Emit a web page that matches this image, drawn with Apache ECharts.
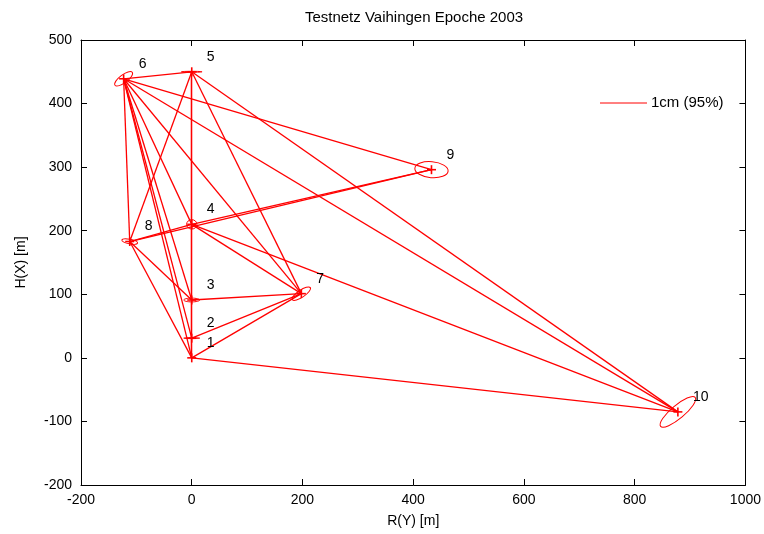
<!DOCTYPE html>
<html><head><meta charset="utf-8">
<script src="https://cdn.jsdelivr.net/npm/echarts@6/dist/echarts.min.js"></script>
<style>html,body{margin:0;padding:0;background:#fff}#c{width:764px;height:534px}</style>
</head><body><div id="c"></div>
<script>
// Station data (R = Y easting, H = X northing) in metres
const pointIds = ['1','2','3','4','5','6','7','8','9','10'];
const pointR = [0, 0, 0, 0, 0, -123, 198, -112, 433, 878];
const pointH = [0, 31, 91, 210, 450, 439, 101, 183, 296, -85];
// 95% error ellipses: semi-axes in cm of the scale bar, orientation in degrees
const ellA = [0, 0.17, 0.17, 0.11, 0.22, 0.23, 0.23, 0.17, 0.355, 0.48];
const ellB = [0, 0.01, 0.04, 0.10, 0.01, 0.085, 0.075, 0.05, 0.17, 0.14];
const ellAngle = [0, 0, 0, 0, 0, 37, 34, -10, -5, 40];
// Observations (station pairs)
const edgeFrom = ['1','2','3','4','1', '1','2','3','4','5','6', '1','4','5','6', '4','8','6', '6','6','6','6','6','6', '8','8','8','8'];
const edgeTo   = ['2','3','4','5','5', '7','7','7','7','7','7', '10','10','10','10', '9','9','9', '5','8','1','2','3','4', '5','1','3','4'];
const xTicks = [-200, 1000, 200];
const yTicks = [-200, 500, 100];
const titleText = 'Testnetz Vaihingen Epoche 2003';
const xName = 'R(Y) [m]';
const yName = 'H(X) [m]';
const scaleLabel = '1cm (95%)';

const CM_PX = 47;
const FONT = 'Liberation Sans, Arial, Helvetica, sans-serif';
const idx = id => pointIds.indexOf(id);
const edgeData = edgeFrom.map((f, i) => ({
  coords: [[pointR[idx(f)], pointH[idx(f)]], [pointR[idx(edgeTo[i])], pointH[idx(edgeTo[i])]]]
}));
const ptData = pointIds.map((id, i) => [pointR[i], pointH[i], ellA[i], ellB[i], ellAngle[i], i]);

const axisCommon = {
  type: 'value',
  axisLine: {show: true, onZero: false, lineStyle: {color: '#000', width: 1}},
  axisTick: {show: true, inside: true, length: 6, lineStyle: {color: '#000'}},
  splitLine: {show: false},
  axisLabel: {color: '#000', fontSize: 14, fontFamily: FONT, formatter: v => String(v)}
};

const chart = echarts.init(document.getElementById('c'), null, {renderer: 'canvas'});
chart.setOption({
  animation: false,
  backgroundColor: '#fff',
  grid: {left: 81, right: 17, top: 40, bottom: 49, containLabel: false},
  xAxis: [
    Object.assign({}, axisCommon, {min: xTicks[0], max: xTicks[1], interval: xTicks[2], position: 'bottom',
      name: xName, nameLocation: 'middle', nameGap: 29,
      nameTextStyle: {color: '#000', fontSize: 14, fontFamily: FONT},
      axisLabel: Object.assign({}, axisCommon.axisLabel, {margin: 8})}),
    Object.assign({}, axisCommon, {min: xTicks[0], max: xTicks[1], interval: xTicks[2], position: 'top',
      axisLabel: {show: false}})
  ],
  yAxis: [
    Object.assign({}, axisCommon, {min: yTicks[0], max: yTicks[1], interval: yTicks[2], position: 'left',
      name: yName, nameLocation: 'middle', nameGap: 53, nameRotate: 90,
      nameTextStyle: {color: '#000', fontSize: 14, fontFamily: FONT},
      axisLabel: Object.assign({}, axisCommon.axisLabel, {margin: 9})}),
    Object.assign({}, axisCommon, {min: yTicks[0], max: yTicks[1], interval: yTicks[2], position: 'right',
      axisLabel: {show: false}})
  ],
  graphic: [
    {type: 'text', x: 414, y: 18, style: {text: titleText, fill: '#000', font: '15px ' + FONT, align: 'center', verticalAlign: 'middle'}},
    {type: 'line', shape: {x1: 600, y1: 103, x2: 600 + CM_PX, y2: 103}, style: {stroke: '#ff0000', lineWidth: 1}},
    {type: 'text', x: 651, y: 103, style: {text: scaleLabel, fill: '#000', font: '15px ' + FONT, align: 'left', verticalAlign: 'middle'}}
  ],
  series: [
    {
      type: 'lines', coordinateSystem: 'cartesian2d', xAxisIndex: 0, yAxisIndex: 0,
      polyline: false, silent: true,
      lineStyle: {color: '#ff0000', width: 1.3, opacity: 1, curveness: 0},
      data: edgeData
    },
    {
      type: 'custom', coordinateSystem: 'cartesian2d', xAxisIndex: 0, yAxisIndex: 0, silent: true,
      data: ptData,
      renderItem: function (params, api) {
        const p = api.coord([api.value(0), api.value(1)]);
        const a = api.value(2) * CM_PX, b = api.value(3) * CM_PX, ang = api.value(4) * Math.PI / 180;
        const i = api.value(5);
        const children = [];
        if (a > 0) {
          children.push({type: 'ellipse', x: p[0], y: p[1], rotation: ang,
            shape: {cx: 0, cy: 0, rx: a, ry: Math.max(b, 0.3)},
            style: {fill: null, stroke: '#ff0000', lineWidth: 1}});
        }
        children.push({type: 'line', shape: {x1: p[0] - 4.5, y1: p[1], x2: p[0] + 4.5, y2: p[1]}, style: {stroke: '#ff0000', lineWidth: 1.6}});
        children.push({type: 'line', shape: {x1: p[0], y1: p[1] - 4.5, x2: p[0], y2: p[1] + 4.5}, style: {stroke: '#ff0000', lineWidth: 1.6}});
        children.push({type: 'text', x: p[0] + 15, y: p[1] - 15,
          style: {text: pointIds[i], fill: '#000', font: '14px ' + FONT, align: 'left', verticalAlign: 'middle'}});
        return {type: 'group', children: children};
      }
    }
  ]
});
</script>
</body></html>
